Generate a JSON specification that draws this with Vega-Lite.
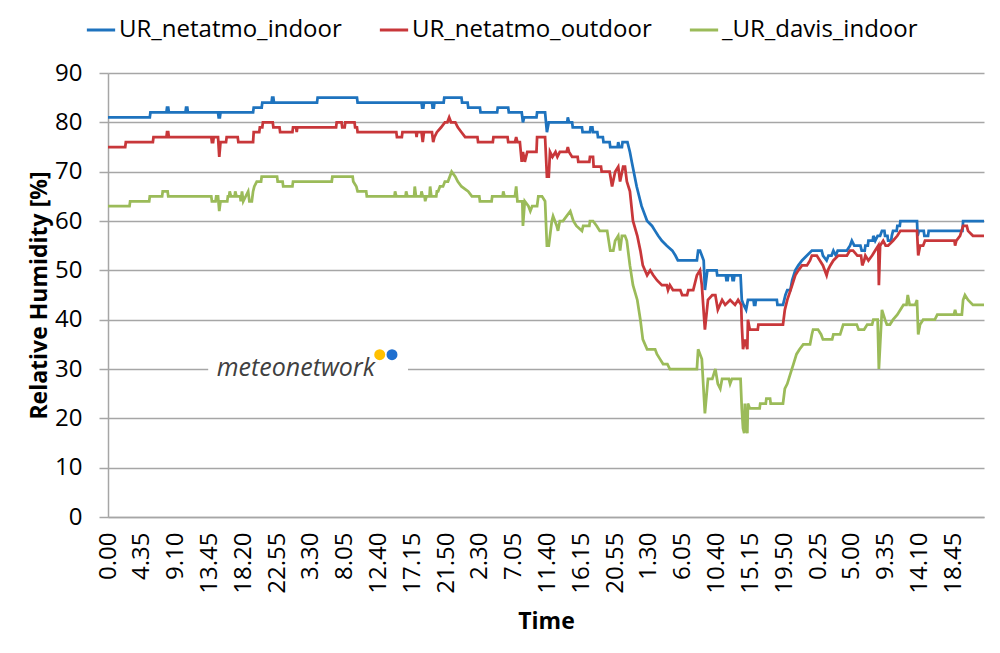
{
  "$schema": "https://vega.github.io/schema/vega-lite/v6.json",
  "width": 876,
  "height": 444,
  "autosize": {"type": "none"},
  "padding": {"left": 108, "top": 73, "right": 16, "bottom": 136},
  "background": "white",
  "config": {
    "font": "Open Sans",
    "view": {"stroke": null},
    "axis": {"labelColor": "#000000", "titleColor": "#000000", "labelFontSize": 24, "titleFontSize": 23, "titleFontWeight": "bold", "domainColor": "#a6a6a6", "domainWidth": 1.5},
    "axisX": {"labelAngle": 270, "labelAlign": "right", "labelBaseline": "middle", "labelPadding": 15, "ticks": false, "grid": false, "titlePadding": 17, "labelFlush": false, "labelOverlap": false, "labelBound": false},
    "axisY": {"grid": true, "gridColor": "#a6a6a6", "gridWidth": 1.5, "tickColor": "#a6a6a6", "tickSize": 9, "tickWidth": 1.5, "labelPadding": 17, "titlePadding": 3},
    "legend": {"orient": "none", "legendX": -23, "legendY": -59, "direction": "horizontal", "labelFontSize": 24, "labelLimit": 500, "labelColor": "#000000", "symbolType": "stroke", "symbolSize": 800, "symbolStrokeWidth": 3, "columnPadding": 31, "labelOffset": 2}
  },
  "datasets": {
    "netatmo_in": [
      {"t":0,"rh":81},{"t":68,"rh":81},{"t":69,"rh":82},{"t":95,"rh":82},{"t":96,"rh":83},{"t":98,"rh":83},{"t":99,"rh":82},{"t":126,"rh":82},{"t":127,"rh":83},{"t":129,"rh":83},{"t":130,"rh":82},{"t":179,"rh":82},{"t":180,"rh":81},{"t":182,"rh":81},{"t":183,"rh":82},{"t":236,"rh":82},{"t":237,"rh":83},{"t":250,"rh":83},{"t":251,"rh":84},{"t":266,"rh":84},{"t":267,"rh":85},{"t":269,"rh":85},{"t":270,"rh":84},{"t":340,"rh":84},{"t":341,"rh":85},{"t":405,"rh":85},{"t":406,"rh":84},{"t":510,"rh":84},{"t":511,"rh":83},{"t":513,"rh":83},{"t":514,"rh":84},{"t":527,"rh":84},{"t":528,"rh":83},{"t":530,"rh":83},{"t":531,"rh":84},{"t":546,"rh":84},{"t":547,"rh":85},{"t":575,"rh":85},{"t":576,"rh":84},{"t":585,"rh":84},{"t":586,"rh":83},{"t":605,"rh":83},{"t":606,"rh":82},{"t":633,"rh":82},{"t":634,"rh":83},{"t":651,"rh":83},{"t":652,"rh":82},{"t":673,"rh":82},{"t":675,"rh":80},{"t":677,"rh":81},{"t":697,"rh":81},{"t":698,"rh":82},{"t":711,"rh":82},{"t":714,"rh":78},{"t":717,"rh":80},{"t":747,"rh":80},{"t":748,"rh":81},{"t":750,"rh":80},{"t":755,"rh":80},{"t":756,"rh":79},{"t":771,"rh":79},{"t":772,"rh":78},{"t":784,"rh":78},{"t":785,"rh":79},{"t":788,"rh":79},{"t":789,"rh":78},{"t":796,"rh":78},{"t":797,"rh":77},{"t":805,"rh":77},{"t":806,"rh":76},{"t":816,"rh":76},{"t":817,"rh":75},{"t":829,"rh":75},{"t":830,"rh":76},{"t":832,"rh":75},{"t":836,"rh":75},{"t":837,"rh":76},{"t":845,"rh":76},{"t":849,"rh":74},{"t":852,"rh":72},{"t":860,"rh":67},{"t":868,"rh":63},{"t":877,"rh":60},{"t":885,"rh":59},{"t":890,"rh":58},{"t":895,"rh":57},{"t":901,"rh":56},{"t":909,"rh":55},{"t":918,"rh":54},{"t":923,"rh":53},{"t":927,"rh":52},{"t":958,"rh":52},{"t":960,"rh":54},{"t":963,"rh":54},{"t":966,"rh":53},{"t":969,"rh":52},{"t":971,"rh":46},{"t":975,"rh":50},{"t":990,"rh":50},{"t":991,"rh":49},{"t":1005,"rh":49},{"t":1006,"rh":48},{"t":1008,"rh":48},{"t":1009,"rh":49},{"t":1015,"rh":49},{"t":1016,"rh":48},{"t":1018,"rh":48},{"t":1019,"rh":49},{"t":1029,"rh":49},{"t":1031,"rh":44},{"t":1034,"rh":43},{"t":1038,"rh":42},{"t":1041,"rh":44},{"t":1050,"rh":44},{"t":1051,"rh":43},{"t":1053,"rh":43},{"t":1054,"rh":44},{"t":1088,"rh":44},{"t":1089,"rh":43},{"t":1098,"rh":43},{"t":1102,"rh":45},{"t":1105,"rh":46},{"t":1110,"rh":46},{"t":1113,"rh":48},{"t":1118,"rh":50},{"t":1123,"rh":51},{"t":1129,"rh":52},{"t":1137,"rh":53},{"t":1145,"rh":54},{"t":1161,"rh":54},{"t":1163,"rh":53},{"t":1169,"rh":52},{"t":1172,"rh":53},{"t":1177,"rh":53},{"t":1180,"rh":54},{"t":1184,"rh":53},{"t":1187,"rh":54},{"t":1202,"rh":54},{"t":1207,"rh":55},{"t":1210,"rh":56},{"t":1214,"rh":55},{"t":1224,"rh":55},{"t":1226,"rh":54},{"t":1231,"rh":54},{"t":1232,"rh":55},{"t":1236,"rh":55},{"t":1237,"rh":56},{"t":1244,"rh":56},{"t":1245,"rh":57},{"t":1248,"rh":56},{"t":1252,"rh":57},{"t":1256,"rh":57},{"t":1259,"rh":58},{"t":1263,"rh":58},{"t":1264,"rh":57},{"t":1268,"rh":57},{"t":1269,"rh":56},{"t":1274,"rh":56},{"t":1275,"rh":57},{"t":1277,"rh":58},{"t":1283,"rh":58},{"t":1284,"rh":59},{"t":1288,"rh":59},{"t":1289,"rh":60},{"t":1316,"rh":60},{"t":1317,"rh":57},{"t":1319,"rh":58},{"t":1327,"rh":58},{"t":1328,"rh":57},{"t":1334,"rh":57},{"t":1335,"rh":58},{"t":1390,"rh":58},{"t":1391,"rh":60},{"t":1425,"rh":60}
    ],
    "netatmo_out": [
      {"t":0,"rh":75},{"t":28,"rh":75},{"t":29,"rh":76},{"t":73,"rh":76},{"t":74,"rh":77},{"t":95,"rh":77},{"t":96,"rh":78},{"t":98,"rh":78},{"t":99,"rh":77},{"t":168,"rh":77},{"t":169,"rh":76},{"t":171,"rh":76},{"t":172,"rh":77},{"t":179,"rh":77},{"t":181,"rh":73},{"t":183,"rh":76},{"t":192,"rh":76},{"t":193,"rh":77},{"t":211,"rh":77},{"t":212,"rh":76},{"t":236,"rh":76},{"t":237,"rh":78},{"t":246,"rh":78},{"t":247,"rh":79},{"t":251,"rh":79},{"t":252,"rh":80},{"t":268,"rh":80},{"t":269,"rh":79},{"t":279,"rh":79},{"t":280,"rh":78},{"t":300,"rh":78},{"t":301,"rh":79},{"t":306,"rh":79},{"t":307,"rh":78},{"t":308,"rh":79},{"t":371,"rh":79},{"t":372,"rh":80},{"t":380,"rh":80},{"t":381,"rh":79},{"t":385,"rh":79},{"t":386,"rh":80},{"t":401,"rh":80},{"t":402,"rh":79},{"t":405,"rh":79},{"t":406,"rh":78},{"t":469,"rh":78},{"t":470,"rh":77},{"t":478,"rh":77},{"t":479,"rh":78},{"t":501,"rh":78},{"t":502,"rh":77},{"t":503,"rh":78},{"t":510,"rh":78},{"t":512,"rh":76},{"t":514,"rh":78},{"t":527,"rh":78},{"t":529,"rh":76},{"t":531,"rh":77},{"t":535,"rh":78},{"t":542,"rh":79},{"t":548,"rh":80},{"t":552,"rh":80},{"t":555,"rh":81},{"t":558,"rh":80},{"t":565,"rh":80},{"t":569,"rh":79},{"t":575,"rh":78},{"t":581,"rh":77},{"t":601,"rh":77},{"t":602,"rh":76},{"t":626,"rh":76},{"t":627,"rh":77},{"t":650,"rh":77},{"t":651,"rh":76},{"t":662,"rh":76},{"t":664,"rh":77},{"t":666,"rh":76},{"t":670,"rh":76},{"t":673,"rh":72},{"t":675,"rh":74},{"t":678,"rh":72},{"t":682,"rh":74},{"t":697,"rh":74},{"t":698,"rh":77},{"t":711,"rh":77},{"t":714,"rh":69},{"t":717,"rh":69},{"t":719,"rh":74},{"t":723,"rh":73},{"t":728,"rh":74},{"t":731,"rh":73},{"t":735,"rh":74},{"t":746,"rh":74},{"t":748,"rh":75},{"t":750,"rh":74},{"t":755,"rh":73},{"t":764,"rh":73},{"t":765,"rh":72},{"t":783,"rh":72},{"t":784,"rh":73},{"t":789,"rh":73},{"t":790,"rh":71},{"t":802,"rh":71},{"t":803,"rh":70},{"t":816,"rh":70},{"t":820,"rh":67},{"t":825,"rh":70},{"t":830,"rh":71},{"t":833,"rh":68},{"t":838,"rh":71},{"t":841,"rh":71},{"t":844,"rh":68},{"t":849,"rh":66},{"t":854,"rh":60},{"t":861,"rh":57},{"t":866,"rh":54},{"t":870,"rh":51},{"t":877,"rh":49},{"t":882,"rh":50},{"t":887,"rh":49},{"t":893,"rh":48},{"t":901,"rh":47},{"t":909,"rh":47},{"t":911,"rh":46},{"t":914,"rh":47},{"t":919,"rh":46},{"t":931,"rh":46},{"t":934,"rh":45},{"t":942,"rh":45},{"t":944,"rh":46},{"t":952,"rh":46},{"t":958,"rh":49},{"t":963,"rh":50},{"t":966,"rh":47},{"t":971,"rh":38},{"t":976,"rh":44},{"t":983,"rh":45},{"t":988,"rh":45},{"t":992,"rh":42},{"t":999,"rh":44},{"t":1004,"rh":43},{"t":1012,"rh":44},{"t":1020,"rh":43},{"t":1025,"rh":44},{"t":1030,"rh":43},{"t":1031,"rh":39},{"t":1033,"rh":34},{"t":1036,"rh":36},{"t":1040,"rh":34},{"t":1041,"rh":40},{"t":1044,"rh":38},{"t":1057,"rh":38},{"t":1058,"rh":39},{"t":1098,"rh":39},{"t":1101,"rh":42},{"t":1105,"rh":44},{"t":1113,"rh":47},{"t":1118,"rh":49},{"t":1123,"rh":50},{"t":1129,"rh":51},{"t":1137,"rh":51},{"t":1142,"rh":52},{"t":1145,"rh":53},{"t":1153,"rh":53},{"t":1158,"rh":52},{"t":1163,"rh":51},{"t":1169,"rh":49},{"t":1171,"rh":50},{"t":1175,"rh":51},{"t":1180,"rh":52},{"t":1188,"rh":53},{"t":1202,"rh":53},{"t":1207,"rh":54},{"t":1212,"rh":54},{"t":1219,"rh":53},{"t":1225,"rh":53},{"t":1227,"rh":51},{"t":1230,"rh":52},{"t":1232,"rh":53},{"t":1237,"rh":52},{"t":1243,"rh":53},{"t":1248,"rh":54},{"t":1253,"rh":55},{"t":1254,"rh":47},{"t":1256,"rh":55},{"t":1261,"rh":56},{"t":1265,"rh":55},{"t":1269,"rh":55},{"t":1277,"rh":56},{"t":1284,"rh":57},{"t":1289,"rh":58},{"t":1316,"rh":58},{"t":1318,"rh":53},{"t":1321,"rh":55},{"t":1326,"rh":55},{"t":1329,"rh":56},{"t":1377,"rh":56},{"t":1378,"rh":55},{"t":1380,"rh":56},{"t":1386,"rh":57},{"t":1391,"rh":59},{"t":1397,"rh":59},{"t":1399,"rh":58},{"t":1407,"rh":57},{"t":1425,"rh":57}
    ],
    "davis_in": [
      {"t":0,"rh":63},{"t":35,"rh":63},{"t":36,"rh":64},{"t":67,"rh":64},{"t":68,"rh":65},{"t":88,"rh":65},{"t":89,"rh":66},{"t":97,"rh":66},{"t":98,"rh":65},{"t":168,"rh":65},{"t":169,"rh":64},{"t":175,"rh":64},{"t":176,"rh":65},{"t":179,"rh":65},{"t":181,"rh":62},{"t":183,"rh":64},{"t":194,"rh":64},{"t":195,"rh":65},{"t":197,"rh":65},{"t":198,"rh":66},{"t":200,"rh":65},{"t":206,"rh":65},{"t":207,"rh":66},{"t":209,"rh":65},{"t":215,"rh":65},{"t":216,"rh":64},{"t":218,"rh":66},{"t":220,"rh":64},{"t":228,"rh":66},{"t":230,"rh":64},{"t":234,"rh":64},{"t":236,"rh":66},{"t":238,"rh":67},{"t":242,"rh":68},{"t":249,"rh":68},{"t":250,"rh":69},{"t":275,"rh":69},{"t":276,"rh":68},{"t":284,"rh":68},{"t":285,"rh":67},{"t":300,"rh":67},{"t":301,"rh":68},{"t":364,"rh":68},{"t":365,"rh":69},{"t":398,"rh":69},{"t":399,"rh":68},{"t":404,"rh":67},{"t":406,"rh":66},{"t":420,"rh":66},{"t":421,"rh":65},{"t":466,"rh":65},{"t":467,"rh":66},{"t":469,"rh":65},{"t":484,"rh":65},{"t":485,"rh":66},{"t":487,"rh":65},{"t":498,"rh":65},{"t":499,"rh":67},{"t":501,"rh":65},{"t":509,"rh":65},{"t":510,"rh":66},{"t":512,"rh":65},{"t":515,"rh":65},{"t":516,"rh":64},{"t":518,"rh":65},{"t":523,"rh":65},{"t":524,"rh":67},{"t":526,"rh":65},{"t":534,"rh":65},{"t":535,"rh":66},{"t":537,"rh":66},{"t":540,"rh":67},{"t":545,"rh":67},{"t":548,"rh":68},{"t":553,"rh":68},{"t":559,"rh":70},{"t":565,"rh":69},{"t":569,"rh":68},{"t":575,"rh":67},{"t":586,"rh":66},{"t":592,"rh":65},{"t":604,"rh":65},{"t":605,"rh":64},{"t":624,"rh":64},{"t":625,"rh":65},{"t":642,"rh":65},{"t":643,"rh":66},{"t":645,"rh":65},{"t":662,"rh":65},{"t":664,"rh":67},{"t":666,"rh":64},{"t":674,"rh":64},{"t":675,"rh":59},{"t":678,"rh":64},{"t":684,"rh":63},{"t":687,"rh":62},{"t":690,"rh":63},{"t":698,"rh":63},{"t":700,"rh":65},{"t":706,"rh":65},{"t":711,"rh":64},{"t":714,"rh":55},{"t":717,"rh":55},{"t":722,"rh":60},{"t":724,"rh":61},{"t":730,"rh":59},{"t":732,"rh":58},{"t":735,"rh":60},{"t":740,"rh":60},{"t":746,"rh":61},{"t":752,"rh":62},{"t":757,"rh":60},{"t":762,"rh":59},{"t":771,"rh":58},{"t":773,"rh":59},{"t":783,"rh":59},{"t":784,"rh":60},{"t":789,"rh":60},{"t":795,"rh":59},{"t":800,"rh":58},{"t":812,"rh":58},{"t":817,"rh":54},{"t":822,"rh":54},{"t":825,"rh":56},{"t":830,"rh":57},{"t":833,"rh":54},{"t":836,"rh":57},{"t":841,"rh":57},{"t":844,"rh":56},{"t":849,"rh":51},{"t":854,"rh":47},{"t":861,"rh":44},{"t":866,"rh":40},{"t":870,"rh":36},{"t":877,"rh":34},{"t":890,"rh":34},{"t":893,"rh":33},{"t":898,"rh":32},{"t":903,"rh":31},{"t":910,"rh":31},{"t":914,"rh":30},{"t":958,"rh":30},{"t":960,"rh":34},{"t":966,"rh":32},{"t":971,"rh":21},{"t":976,"rh":28},{"t":983,"rh":28},{"t":988,"rh":30},{"t":992,"rh":27},{"t":996,"rh":26},{"t":999,"rh":28},{"t":1010,"rh":28},{"t":1012,"rh":27},{"t":1015,"rh":28},{"t":1029,"rh":28},{"t":1031,"rh":22},{"t":1033,"rh":18},{"t":1035,"rh":17},{"t":1036,"rh":23},{"t":1038,"rh":18},{"t":1040,"rh":17},{"t":1041,"rh":23},{"t":1044,"rh":22},{"t":1060,"rh":22},{"t":1061,"rh":23},{"t":1070,"rh":23},{"t":1071,"rh":24},{"t":1077,"rh":24},{"t":1078,"rh":23},{"t":1098,"rh":23},{"t":1101,"rh":26},{"t":1105,"rh":27},{"t":1110,"rh":29},{"t":1115,"rh":31},{"t":1120,"rh":33},{"t":1125,"rh":34},{"t":1131,"rh":35},{"t":1142,"rh":35},{"t":1145,"rh":37},{"t":1147,"rh":38},{"t":1155,"rh":38},{"t":1160,"rh":37},{"t":1163,"rh":36},{"t":1178,"rh":36},{"t":1180,"rh":37},{"t":1191,"rh":37},{"t":1196,"rh":39},{"t":1218,"rh":39},{"t":1221,"rh":38},{"t":1230,"rh":38},{"t":1235,"rh":39},{"t":1243,"rh":39},{"t":1245,"rh":40},{"t":1252,"rh":40},{"t":1254,"rh":30},{"t":1259,"rh":42},{"t":1264,"rh":40},{"t":1267,"rh":39},{"t":1272,"rh":39},{"t":1277,"rh":40},{"t":1284,"rh":41},{"t":1289,"rh":42},{"t":1294,"rh":43},{"t":1299,"rh":43},{"t":1301,"rh":45},{"t":1304,"rh":43},{"t":1313,"rh":43},{"t":1316,"rh":44},{"t":1318,"rh":37},{"t":1321,"rh":39},{"t":1326,"rh":40},{"t":1345,"rh":40},{"t":1349,"rh":41},{"t":1376,"rh":41},{"t":1378,"rh":42},{"t":1380,"rh":41},{"t":1389,"rh":41},{"t":1391,"rh":44},{"t":1394,"rh":45},{"t":1399,"rh":44},{"t":1407,"rh":43},{"t":1425,"rh":43}
    ],
    "logo_box": [{"t0": 163, "t1": 488, "lo": 28, "hi": 32}],
    "logo_text": [{"t": 177, "rh": 28.6, "txt": "meteonetwork"}],
    "logo_dot_a": [{"t": 442, "rh": 32.9}],
    "logo_dot_b": [{"t": 462, "rh": 32.9}]
  },
  "layer": [
    {
      "data": {"name": "netatmo_in"},
      "mark": {"type": "line", "strokeWidth": 2.75, "interpolate": "linear"},
      "encoding": {
        "x": {
          "field": "t", "type": "quantitative", "title": "Time",
          "scale": {"domain": [0, 1425], "nice": false, "zero": false},
          "axis": {
            "values": [0,55,110,165,220,275,330,385,440,495,550,605,660,715,770,825,880,935,990,1045,1100,1155,1210,1265,1320,1375],
            "tickCount": 40,
            "labelExpr": "['0.00','4.35','9.10','13.45','18.20','22.55','3.30','8.05','12.40','17.15','21.50','2.30','7.05','11.40','16.15','20.55','1.30','6.05','10.40','15.15','19.50','0.25','5.00','9.35','14.10','18.45'][round(datum.value/55)]",
            "labelOverlap": false
          }
        },
        "y": {
          "field": "rh", "type": "quantitative", "title": "Relative Humidity [%]",
          "scale": {"domain": [0, 90], "nice": false},
          "axis": {"values": [0,10,20,30,40,50,60,70,80,90], "tickCount": 20}
        },
        "color": {
          "datum": "UR_netatmo_indoor",
          "scale": {"domain": ["UR_netatmo_indoor", "UR_netatmo_outdoor", "_UR_davis_indoor"], "range": ["#1E73BE", "#C8373A", "#9BBB59"]},
          "legend": {"title": null}
        }
      }
    },
    {
      "data": {"name": "netatmo_out"},
      "mark": {"type": "line", "strokeWidth": 2.75, "interpolate": "linear"},
      "encoding": {
        "x": {"field": "t", "type": "quantitative", "title": "Time"},
        "y": {"field": "rh", "type": "quantitative", "title": "Relative Humidity [%]"},
        "color": {"datum": "UR_netatmo_outdoor"}
      }
    },
    {
      "data": {"name": "davis_in"},
      "mark": {"type": "line", "strokeWidth": 2.75, "interpolate": "linear"},
      "encoding": {
        "x": {"field": "t", "type": "quantitative", "title": "Time"},
        "y": {"field": "rh", "type": "quantitative", "title": "Relative Humidity [%]"},
        "color": {"datum": "_UR_davis_indoor"}
      }
    },
    {
      "data": {"name": "logo_box"},
      "mark": {"type": "rect", "fill": "white"},
      "encoding": {
        "x": {"field": "t0", "type": "quantitative", "title": "Time"},
        "x2": {"field": "t1"},
        "y": {"field": "lo", "type": "quantitative", "title": "Relative Humidity [%]"},
        "y2": {"field": "hi"}
      }
    },
    {
      "data": {"name": "logo_text"},
      "mark": {"type": "text", "font": "Open Sans", "fontStyle": "italic", "fontSize": 25, "fill": "#404040", "align": "left", "baseline": "alphabetic"},
      "encoding": {
        "x": {"field": "t", "type": "quantitative", "title": "Time"},
        "y": {"field": "rh", "type": "quantitative", "title": "Relative Humidity [%]"},
        "text": {"field": "txt"}
      }
    },
    {
      "data": {"name": "logo_dot_a"},
      "mark": {"type": "circle", "size": 120, "fill": "#FFC000", "opacity": 1},
      "encoding": {
        "x": {"field": "t", "type": "quantitative", "title": "Time"},
        "y": {"field": "rh", "type": "quantitative", "title": "Relative Humidity [%]"}
      }
    },
    {
      "data": {"name": "logo_dot_b"},
      "mark": {"type": "circle", "size": 120, "fill": "#1F6FD0", "opacity": 1},
      "encoding": {
        "x": {"field": "t", "type": "quantitative", "title": "Time"},
        "y": {"field": "rh", "type": "quantitative", "title": "Relative Humidity [%]"}
      }
    }
  ]
}
